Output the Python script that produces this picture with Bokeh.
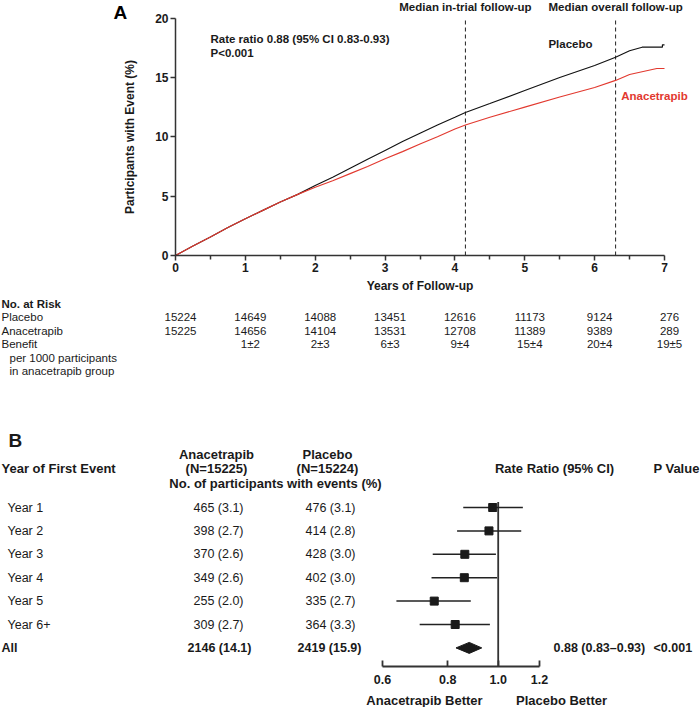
import math
from bokeh.plotting import figure
from bokeh.models import (Range1d, Label, FixedTicker, LinearScale, PrintfTickFormatter)
from bokeh.layouts import column
from bokeh.embed import file_html
from bokeh.resources import INLINE
from bokeh.core.properties import value

# ---------------- data ----------------
placebo_t = [0, 0.25, 0.5, 0.75, 1.0, 1.25, 1.5, 1.75, 2.0, 2.25, 2.5, 2.75, 3.0, 3.25,
             3.5, 3.75, 4.0, 4.15, 4.5, 5.0, 5.5, 6.0, 6.3, 6.5, 6.68, 6.97, 6.97, 7.0]
placebo_pct = [0, 0.8, 1.55, 2.35, 3.1, 3.8, 4.5, 5.15, 5.9, 6.6, 7.35, 8.1, 8.85, 9.6,
               10.3, 11.0, 11.65, 12.05, 12.8, 13.9, 15.0, 16.0, 16.7, 17.25, 17.55, 17.55, 17.75, 17.75]
anacetrapib_t = [0, 0.25, 0.5, 0.75, 1.0, 1.25, 1.5, 1.75, 2.0, 2.25, 2.5, 2.75, 3.0, 3.25,
                 3.5, 3.75, 4.0, 4.15, 4.5, 5.0, 5.5, 6.0, 6.3, 6.5, 6.89, 7.0]
anacetrapib_pct = [0, 0.8, 1.55, 2.35, 3.1, 3.8, 4.5, 5.15, 5.75, 6.3, 6.9, 7.5, 8.15, 8.75,
                   9.4, 10.0, 10.65, 11.0, 11.65, 12.5, 13.35, 14.15, 14.75, 15.25, 15.75, 15.75]
median_followup_years = [4.15, 6.3]
median_followup_labels = ["Median in-trial follow-up", "Median overall follow-up"]
x_ticks_years = [0, 1, 2, 3, 4, 5, 6, 7]
x_minor_years = [0.5, 1.5, 2.5, 3.5, 4.5, 5.5, 6.5]
y_ticks_pct = [0, 5, 10, 15, 20]
km_rate_text = ["Rate ratio 0.88 (95% CI 0.83-0.93)", "P<0.001"]

risk_years = [0, 1, 2, 3, 4, 5, 6, 7]
placebo_at_risk = [15224, 14649, 14088, 13451, 12616, 11173, 9124, 276]
anacetrapib_at_risk = [15225, 14656, 14104, 13531, 12708, 11389, 9389, 289]
benefit_years = [1, 2, 3, 4, 5, 6, 7]
benefit_per_1000 = ["1±2", "2±3", "6±3", "9±4", "15±4", "20±4", "19±5"]
risk_row_labels = ["No. at Risk", "Placebo", "Anacetrapib", "Benefit",
                   "per 1000 participants", "in anacetrapib group"]

event_years = ["Year 1", "Year 2", "Year 3", "Year 4", "Year 5", "Year 6+"]
anacetrapib_events = [465, 398, 370, 349, 255, 309]
anacetrapib_events_pct = [3.1, 2.7, 2.6, 2.6, 2.0, 2.7]
placebo_events = [476, 414, 428, 402, 335, 364]
placebo_events_pct = [3.1, 2.8, 3.0, 3.0, 2.7, 3.3]
rate_ratio = [0.976, 0.960, 0.863, 0.861, 0.754, 0.827]
rate_ratio_lo = [0.857, 0.834, 0.749, 0.745, 0.638, 0.707]
rate_ratio_hi = [1.115, 1.107, 0.990, 0.995, 0.886, 0.964]
all_anacetrapib_events, all_anacetrapib_pct = 2146, 14.1
all_placebo_events, all_placebo_pct = 2419, 15.9
overall_rr, overall_lo, overall_hi = 0.88, 0.83, 0.93
overall_p = "<0.001"
n_anacetrapib, n_placebo = 15225, 15224
rr_ticks = [0.6, 0.8, 1.0, 1.2]
null_ratio = 1.0

# ---------------- style / layout constants (page pixels) ----------------
FONT = "Liberation Sans"
RED = "#e2392f"
INK = "#1a1a1a"
AXC = "#333333"
W = 700
H1, H2, H3 = 292, 88, 327

# panel A geometry
X0 = 175.0                 # page x of year 0
PX_YR = (664.0 - X0) / 7   # px per year
Y0 = 255.0                 # page y of 0 %
PX_PCT = (Y0 - 17.6) / 20  # px per percent


def yr(px):
    return (px - X0) / PX_YR


def pct(py):
    return (Y0 - py) / PX_PCT


def bare(fig):
    fig.outline_line_color = None
    fig.grid.visible = False
    return fig


common = dict(width=W, output_backend="svg", toolbar_location=None,
              min_border_left=0, min_border_right=0, min_border_top=0, min_border_bottom=0)

# ---------------- panel A: cumulative incidence ----------------
f1 = bare(figure(height=H1, x_range=Range1d(yr(0), yr(W)), y_range=Range1d(pct(H1), pct(0)),
                 **common))

for ax in (f1.xaxis[0], f1.yaxis[0]):
    ax.fixed_location = 0
    ax.axis_line_color = AXC
    ax.axis_line_width = 1.5
    ax.major_tick_line_color = AXC
    ax.major_tick_line_width = 1.5
    ax.major_tick_out = 5
    ax.major_tick_in = 0
    ax.major_label_text_font = FONT
    ax.major_label_text_font_style = "bold"
    ax.major_label_text_font_size = "12px"
    ax.major_label_text_color = INK
    ax.axis_label_text_font = FONT
    ax.axis_label_text_font_style = "bold"
    ax.axis_label_text_font_size = "12px"
    ax.axis_label_text_color = INK
    ax.major_label_standoff = 2

f1.xaxis.bounds = (x_ticks_years[0], x_ticks_years[-1])
f1.xaxis.ticker = FixedTicker(ticks=x_ticks_years, minor_ticks=x_minor_years)
f1.xaxis.minor_tick_line_color = AXC
f1.xaxis.minor_tick_line_width = 1.5
f1.xaxis.minor_tick_out = 4
f1.xaxis.minor_tick_in = 0
f1.xaxis.axis_label = "Years of Follow-up"
f1.xaxis.axis_label_standoff = 4
f1.yaxis.bounds = (y_ticks_pct[0], y_ticks_pct[-1])
f1.yaxis.ticker = FixedTicker(ticks=y_ticks_pct, minor_ticks=[])
f1.yaxis.minor_tick_line_color = None
f1.yaxis.axis_label = "Participants with Event (%)"
f1.yaxis.axis_label_standoff = 15

f1.segment(x0=median_followup_years, x1=median_followup_years,
           y0=[y_ticks_pct[0]] * len(median_followup_years),
           y1=[y_ticks_pct[-1]] * len(median_followup_years),
           line_color="#222222", line_width=1, line_dash="4 3")
f1.line(placebo_t, placebo_pct, line_color="#111111", line_width=1.15)
f1.line(anacetrapib_t, anacetrapib_pct, line_color=RED, line_width=1.15)

lbl = dict(text_font=FONT, text_baseline="middle", text_font_style="bold")
for xv, txt in zip(median_followup_years, median_followup_labels):
    f1.add_layout(Label(x=xv, y=pct(6), text=txt, text_align="center",
                        text_font_size="11.5px", text_color=INK, **lbl))
f1.add_layout(Label(x=yr(113), y=pct(12), text="A", text_align="left",
                    text_font_size="19px", text_color="#000000", **lbl))
for i, txt in enumerate(km_rate_text):
    f1.add_layout(Label(x=yr(210), y=pct(38 + 14 * i), text=txt, text_align="left",
                        text_font_size="11.5px", text_color=INK, **lbl))
f1.add_layout(Label(x=yr(570), y=pct(43), text="Placebo", text_align="center",
                    text_font_size="11.5px", text_color=INK, **lbl))
f1.add_layout(Label(x=yr(654), y=pct(95), text="Anacetrapib", text_align="center",
                    text_font_size="11.5px", text_color=RED, **lbl))

# ---------------- number at risk table ----------------
T_TOP = H1
ROW0 = 303.0
ROW_H = 13.5


def trow(py):
    return (py - ROW0) / ROW_H


f2 = bare(figure(height=H2, x_range=Range1d(yr(0), yr(W)),
                 y_range=Range1d(trow(T_TOP + H2), trow(T_TOP)),
                 x_axis_location=None, y_axis_location=None, **common))

lab_x = [yr(1)] * 4 + [yr(9)] * 2
lab_style = ["bold", "normal", "normal", "normal", "normal", "normal"]
f2.text(x=lab_x, y=list(range(len(risk_row_labels))), text=risk_row_labels,
        text_font_style=lab_style, text_font=value(FONT), text_font_size="11.5px",
        text_color=INK, text_align="left", text_baseline="middle")
for row, vals in ((1, placebo_at_risk), (2, anacetrapib_at_risk)):
    f2.text(x=risk_years, y=[row] * len(risk_years), text=[str(v) for v in vals],
            x_offset=5, text_font=value(FONT), text_font_size="11.5px", text_color=INK,
            text_align="center", text_baseline="middle")
f2.text(x=benefit_years, y=[3] * len(benefit_years), text=benefit_per_1000,
        x_offset=5, text_font=value(FONT), text_font_size="11.5px", text_color=INK,
        text_align="center", text_baseline="middle")

# ---------------- panel B: forest plot ----------------
F_TOP = H1 + H2
F_AXIS = 666.0
FROW0 = 507.0
FROW_H = 23.4
RR_PX = 226.5          # px per natural-log unit
RR_ONE_PX = 497.7      # page x of rate ratio 1.0


def frow(py):
    return (py - FROW0) / FROW_H


f3 = bare(figure(height=H3, x_axis_type="log",
                 x_range=Range1d(math.exp((0 - RR_ONE_PX) / RR_PX),
                                 math.exp((W - RR_ONE_PX) / RR_PX)),
                 y_range=Range1d(frow(F_TOP + H3), frow(F_TOP)),
                 y_axis_location=None, **common))
f3.extra_x_ranges = {"tbl": Range1d(0, W)}
f3.extra_x_scales = {"tbl": LinearScale()}

ax = f3.xaxis[0]
ax.fixed_location = frow(F_AXIS)
ax.ticker = FixedTicker(ticks=rr_ticks, minor_ticks=[])
ax.formatter = PrintfTickFormatter(format="%.1f")
ax.bounds = (rr_ticks[0], rr_ticks[-1])
ax.axis_line_color = AXC
ax.axis_line_width = 1.8
ax.major_tick_line_color = AXC
ax.major_tick_line_width = 1.8
ax.major_tick_in = 6
ax.major_tick_out = 0
ax.minor_tick_line_color = None
ax.major_label_standoff = 8
ax.major_label_text_font = FONT
ax.major_label_text_font_style = "bold"
ax.major_label_text_font_size = "12.5px"
ax.major_label_text_color = INK

n_rows = len(event_years)
rows = list(range(n_rows))
all_row = n_rows

f3.segment(x0=[null_ratio], x1=[null_ratio], y0=[frow(FROW0 - 5.5)], y1=[frow(F_AXIS)],
           line_color=AXC, line_width=1.8)
f3.segment(x0=rate_ratio_lo, x1=rate_ratio_hi, y0=rows, y1=rows,
           line_color="#222222", line_width=1.5)
f3.scatter(x=rate_ratio, y=rows, marker="square", size=8, fill_color=INK, line_color=INK)
dh = 5.5 / FROW_H
f3.patch(x=[overall_lo, overall_rr, overall_hi, overall_rr],
         y=[all_row, all_row - dh, all_row, all_row + dh], fill_color=INK, line_color=INK)

tkw = dict(x_range_name="tbl", text_font=value(FONT), text_color=INK, text_baseline="middle")

f3.text(x=[8], y=[frow(440)], text=["B"], text_align="left",
        text_font_style="bold", text_font_size="19px", **tkw)
hdr_text = ["Anacetrapib", "(N=%d)" % n_anacetrapib, "Placebo", "(N=%d)" % n_placebo,
            "No. of participants with events (%)", "Rate Ratio (95% CI)", "P Value"]
hdr_x = [216, 216, 327, 327, 275, 554, 676]
hdr_y = [frow(454), frow(468), frow(454), frow(468), frow(483), frow(468), frow(468)]
f3.text(x=hdr_x, y=hdr_y, text=hdr_text, text_align="center", text_font_style="bold",
        text_font_size="13px", **tkw)
f3.text(x=[1], y=[frow(468)], text=["Year of First Event"], text_align="left",
        text_font_style="bold", text_font_size="13px", **tkw)

f3.text(x=[7] * n_rows, y=rows, text=event_years, text_align="left",
        text_font_size="12.5px", **tkw)
f3.text(x=[218] * n_rows, y=rows,
        text=["%d (%.1f)" % (a, b) for a, b in zip(anacetrapib_events, anacetrapib_events_pct)],
        text_align="center", text_font_size="12.5px", **tkw)
f3.text(x=[330] * n_rows, y=rows,
        text=["%d (%.1f)" % (a, b) for a, b in zip(placebo_events, placebo_events_pct)],
        text_align="center", text_font_size="12.5px", **tkw)

f3.text(x=[1], y=[all_row], text=["All"], text_align="left",
        text_font_style="bold", text_font_size="12.5px", **tkw)
f3.text(x=[219, 329], y=[all_row, all_row],
        text=["%d (%.1f)" % (all_anacetrapib_events, all_anacetrapib_pct),
              "%d (%.1f)" % (all_placebo_events, all_placebo_pct)],
        text_align="center", text_font_style="bold", text_font_size="12.5px", **tkw)
f3.text(x=[553], y=[all_row],
        text=["%.2f (%.2f\u2013%.2f)" % (overall_rr, overall_lo, overall_hi)],
        text_align="left", text_font_style="bold", text_font_size="12.5px", **tkw)
f3.text(x=[653], y=[all_row], text=[overall_p], text_align="left",
        text_font_style="bold", text_font_size="12.5px", **tkw)
f3.text(x=[424, 561], y=[frow(700), frow(700)], text=["Anacetrapib Better", "Placebo Better"],
        text_align="center", text_font_style="bold", text_font_size="13px", **tkw)

layout = column(f1, f2, f3, spacing=0)
open("out.html", "w").write(file_html(layout, INLINE))
